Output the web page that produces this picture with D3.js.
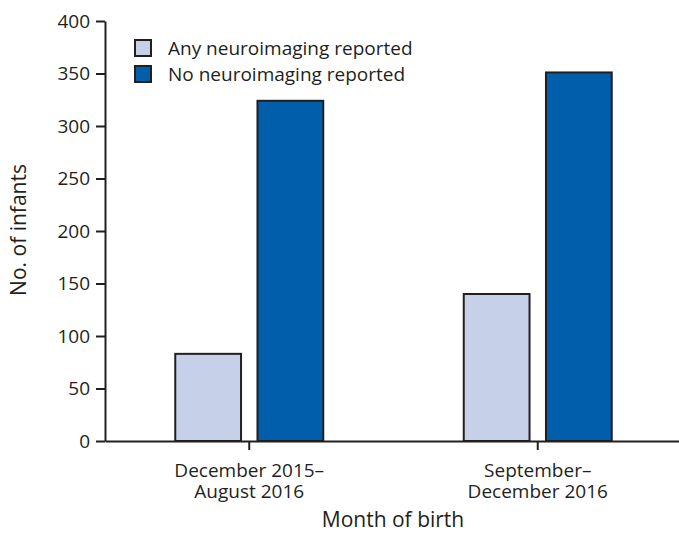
<!DOCTYPE html>
<html>
<head>
<meta charset="utf-8">
<script src="https://cdn.jsdelivr.net/npm/d3@7"></script>
<style>
  body { margin: 0; background: #fff; }
  svg text { font-family: "Open Sans", "Noto Sans", sans-serif; fill: #231f20; }
</style>
</head>
<body>
<div id="chart"></div>
<script>
var categories = [["December 2015–", "August 2016"], ["September–", "December 2016"]];
var seriesNames = ["Any neuroimaging reported", "No neuroimaging reported"];
var anyImaging = [83, 140];
var noImaging = [324, 351];
var yTicks = [0, 50, 100, 150, 200, 250, 300, 350, 400];
var colors = ["#c6d0e8", "#005eaa"];

var WIDTH = 679, HEIGHT = 533;
var plotLeft = 105, plotTop = 21, plotBottom = 441, plotRight = 682;
var ink = "#231f20";

var svg = d3.select("#chart").append("svg")
    .attr("width", WIDTH)
    .attr("height", HEIGHT);

var x0 = d3.scaleBand().domain(d3.range(categories.length)).range([plotLeft, plotRight]).padding(0);
var x1 = d3.scaleBand().domain([0, 1]).range([-74, 74]).paddingInner(0.2);
var y = d3.scaleLinear().domain([0, 400]).range([plotBottom, plotTop]);

var series = [anyImaging, noImaging];

// bars
series.forEach(function(vals, s){
    svg.append("g").selectAll("rect")
        .data(vals).enter()
        .append("rect")
        .attr("x", function(d, i){ return x0(i) + x0.bandwidth() / 2 + x1(s); })
        .attr("y", function(d){ return y(d); })
        .attr("width", x1.bandwidth())
        .attr("height", function(d){ return y(0) - y(d); })
        .attr("fill", colors[s])
        .attr("stroke", ink)
        .attr("stroke-width", 2);
});

// y axis
var yAxis = svg.append("g")
    .attr("transform", "translate(" + plotLeft + ",0)")
    .call(d3.axisLeft(y).tickValues(yTicks).tickSize(9).tickPadding(6).tickSizeOuter(0));
yAxis.select(".domain").attr("stroke", ink).attr("stroke-width", 2);
yAxis.selectAll(".tick line").attr("stroke", ink).attr("stroke-width", 2);
yAxis.selectAll(".tick text").style("font-size", "19px").attr("fill", ink);

// x axis
var xAxis = svg.append("g")
    .attr("transform", "translate(0," + plotBottom + ")")
    .call(d3.axisBottom(x0).tickSize(9).tickSizeOuter(0).tickFormat(""));
xAxis.select(".domain").attr("stroke", ink).attr("stroke-width", 2);
xAxis.selectAll(".tick line").attr("stroke", ink).attr("stroke-width", 2);

svg.append("g").selectAll("text")
    .data(categories).enter()
    .append("text")
    .attr("x", function(d, i){ return x0(i) + x0.bandwidth() / 2; })
    .attr("y", 477)
    .attr("text-anchor", "middle")
    .style("font-size", "19px")
    .each(function(d){
        var t = d3.select(this);
        d.forEach(function(line, k){
            t.append("tspan")
                .attr("x", t.attr("x"))
                .attr("dy", k === 0 ? 0 : 21)
                .text(line);
        });
    });

// axis titles
svg.append("text")
    .attr("x", 393)
    .attr("y", 527)
    .attr("text-anchor", "middle")
    .style("font-size", "21px")
    .text("Month of birth");

svg.append("text")
    .attr("transform", "translate(26,230)rotate(-90)")
    .attr("text-anchor", "middle")
    .style("font-size", "21px")
    .text("No. of infants");

// legend
var legend = svg.append("g").selectAll("g")
    .data(seriesNames).enter()
    .append("g")
    .attr("transform", function(d, i){ return "translate(135," + (40 + i * 26) + ")"; });

legend.append("rect")
    .attr("width", 16)
    .attr("height", 16)
    .attr("fill", function(d, i){ return colors[i]; })
    .attr("stroke", ink)
    .attr("stroke-width", 2);

legend.append("text")
    .attr("x", 33)
    .attr("y", 15)
    .style("font-size", "19px")
    .text(function(d){ return d; });
</script>
</body>
</html>
